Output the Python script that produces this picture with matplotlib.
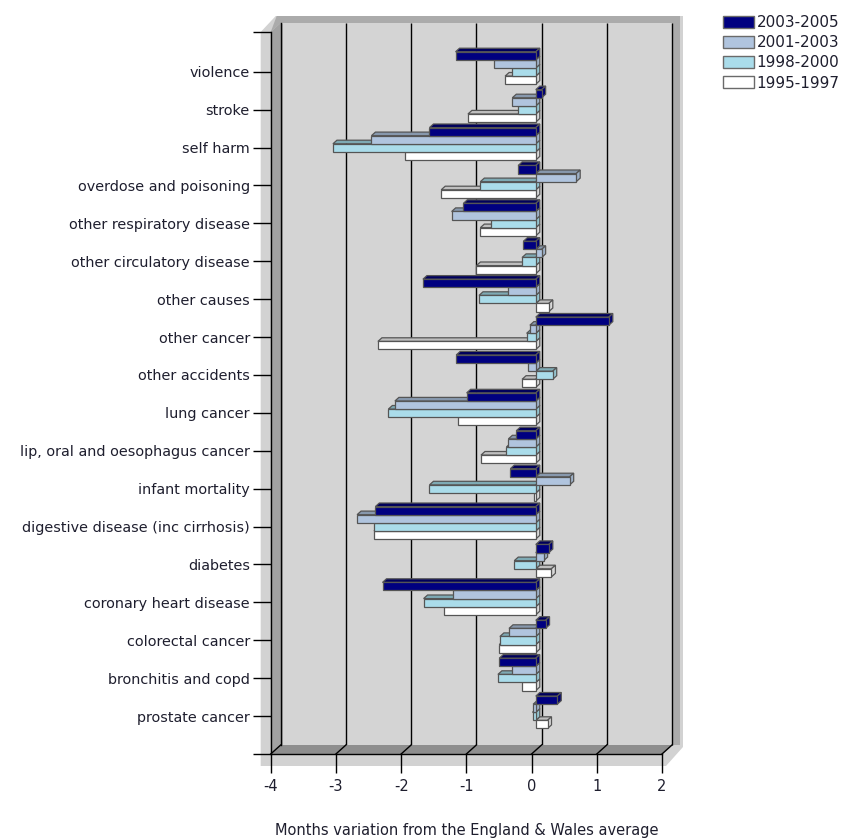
import matplotlib
matplotlib.use('Agg')
import matplotlib.pyplot as plt
from matplotlib.patches import Polygon, Patch
import numpy as np

categories = ['violence', 'stroke', 'self harm', 'overdose and poisoning',
              'other respiratory disease', 'other circulatory disease', 'other causes',
              'other cancer', 'other accidents', 'lung cancer',
              'lip, oral and oesophagus cancer', 'infant mortality',
              'digestive disease (inc cirrhosis)', 'diabetes', 'coronary heart disease',
              'colorectal cancer', 'bronchitis and copd', 'prostate cancer']
series_names = ['2003-2005', '2001-2003', '1998-2000', '1995-1997']
v_2003_2005 = [-1.23, 0.09, -1.63, -0.27, -1.11, -0.19, -1.73, 1.12, -1.22, -1.06,
               -0.30, -0.39, -2.46, 0.20, -2.35, 0.15, -0.56, 0.33]
v_2001_2003 = [-0.64, -0.36, -2.52, 0.62, -1.29, 0.09, -0.42, -0.09, -0.12, -2.16,
               -0.42, 0.52, -2.74, 0.12, -1.27, -0.41, -0.36, -0.04]
v_1998_2000 = [-0.36, -0.27, -3.11, -0.85, -0.68, -0.21, -0.87, -0.14, 0.26, -2.26,
               -0.45, -1.63, -2.48, -0.33, -1.72, -0.55, -0.58, -0.05]
v_1995_1997 = [-0.47, -1.04, -2.00, -1.45, -0.85, -0.91, 0.20, -2.42, -0.21, -1.20,
               -0.84, -0.02, -2.48, 0.24, -1.41, -0.56, -0.21, 0.18]
x_ticks = [-4, -3, -2, -1, 0, 1, 2]
xlabel = 'Months variation from the England & Wales average'

series_values = [v_2003_2005, v_2001_2003, v_1998_2000, v_1995_1997]
front_cols = ['#000080', '#b0c4de', '#aadcea', '#ffffff']
top_cols = ['#00005c', '#8798ad', '#7eaab4', '#bfbfbf']
side_cols = ['#000070', '#9eb0c6', '#94c3ce', '#d8d8d8']
edge_col = '#555555'
text_col = '#1e1e2e'

W, H = 842, 839
fig = plt.figure(figsize=(W / 100, H / 100), dpi=100)
ax_l, ax_r, ax_t, ax_b = 270.7, 662.0, 32.0, 754.0
ax = fig.add_axes([ax_l / W, 1 - ax_b / H, (ax_r - ax_l) / W, (ax_b - ax_t) / H])
XL, XR = x_ticks[0], x_ticks[-1]
YT, YB = -1.05, len(categories)
ax.set_xlim(XL, XR)
ax.set_ylim(YB, YT)
ax.patch.set_visible(False)

PX = (ax_r - ax_l) / (XR - XL)   # px per value unit
PY = (ax_b - ax_t) / (YB - YT)   # px per category


def dx(p):
    return p / PX


def dy(p):
    return p / PY


# depth of the box
bx, by = dx(10), dy(-9)
# outer shadow / wall thickness
shadow = Polygon([(XL - dx(10), YT), (XL + bx - dx(5), YT + by - dy(7)),
                  (XR + bx + dx(11), YT + by - dy(7)), (XR + bx + dx(11), YB + by + dy(2)),
                  (XR + dx(4), YB + dy(12)), (XL - dx(10), YB + dy(12))],
                 closed=True, facecolor='#d2d2d2', edgecolor='none', zorder=0, clip_on=False)
ax.add_patch(shadow)
band = Polygon([(XL + bx - dx(4), YT + by - dy(7)), (XR + bx + dx(8), YT + by - dy(7)),
                (XR + bx + dx(8), YB + by), (XR + bx, YB + by), (XR + bx, YT + by),
                (XL + bx, YT + by), (XL, YT)],
               closed=True, facecolor='#ababab', edgecolor='none', zorder=0.2, clip_on=False)
ax.add_patch(band)
# back wall
back = Polygon([(XL + bx, YT + by), (XR + bx, YT + by), (XR + bx, YB + by), (XL + bx, YB + by)],
               closed=True, facecolor='#d4d4d4', edgecolor='none', zorder=0.5, clip_on=False)
ax.add_patch(back)
for xt in x_ticks:
    ax.plot([xt + bx, xt + bx], [YT + by, YB + by], color='black', lw=1.0,
            zorder=0.8, clip_on=False, solid_capstyle='butt')
# left wall
lw_poly = Polygon([(XL, YT), (XL + bx, YT + by), (XL + bx, YB + by), (XL, YB)],
                  closed=True, facecolor='#a2a2a2', edgecolor='none', zorder=1, clip_on=False)
ax.add_patch(lw_poly)
ax.plot([XL + bx, XL + bx], [YT + by, YB + by], color='black', lw=1.0, zorder=1.1, clip_on=False)
# floor
floor = Polygon([(XL, YB), (XR, YB), (XR + bx, YB + by), (XL + bx, YB + by)],
                closed=True, facecolor='#8e8e8e', edgecolor='none', zorder=1, clip_on=False)
ax.add_patch(floor)
for xt in x_ticks:
    ax.plot([xt, xt + bx], [YB, YB + by], color='black', lw=1.0, zorder=1.1, clip_on=False)

# bars
ox, oy = dx(4.2), dy(-3.8)      # bar front plane
ddx, ddy = dx(4.0), dy(-3.6)    # bar depth
h = dy(8.1)
nser = len(series_values)
z = 2.0
for i in range(len(categories)):
    for k in reversed(range(nser)):
        v = series_values[k][i]
        ytop = i - nser * h / 2 + k * h + oy
        ybot = ytop + h
        left = ox + min(v, 0)
        right = ox + max(v, 0)
        z += 0.01
        top = Polygon([(left, ytop), (right, ytop), (right + ddx, ytop + ddy), (left + ddx, ytop + ddy)],
                      closed=True, facecolor=top_cols[k], edgecolor=edge_col, lw=0.9,
                      zorder=z, clip_on=False)
        ax.add_patch(top)
        z += 0.01
        side = Polygon([(right, ytop), (right, ybot), (right + ddx, ybot + ddy), (right + ddx, ytop + ddy)],
                       closed=True, facecolor=side_cols[k], edgecolor=edge_col, lw=0.9,
                       zorder=z, clip_on=False)
        ax.add_patch(side)
        z += 0.01
        ax.barh(i - nser * h / 2 + (k + 0.5) * h + oy, v, height=h, left=ox,
                color=front_cols[k], edgecolor=edge_col, linewidth=0.9, zorder=z, clip_on=False)

# axes lines
for s in ['top', 'right']:
    ax.spines[s].set_visible(False)
for s in ['left', 'bottom']:
    ax.spines[s].set_color('black')
    ax.spines[s].set_linewidth(1.0)
    ax.spines[s].set_zorder(50)

ax.set_xticks(x_ticks)
ax.set_xticklabels([str(t) for t in x_ticks])
ax.set_yticks(range(len(categories)))
ax.set_yticklabels(categories)
ax.set_yticks([YT, YB], minor=True)
ax.tick_params(axis='y', which='both', length=13, width=1.0, pad=2, labelsize=10.35,
               labelcolor=text_col, direction='out')
ax.tick_params(axis='x', which='major', length=14, width=1.0, pad=4, labelsize=10.5,
               labelcolor=text_col, direction='out')

fig.text(467 / W, 1 - 830 / H, xlabel, ha='center', va='center', fontsize=10.5, color=text_col)

handles = [Patch(facecolor=front_cols[k], edgecolor='#6a6a6a', linewidth=1.0) for k in range(nser)]
fig.legend(handles, series_names, loc='upper left', bbox_to_anchor=(723 / W, 1 - 15 / H),
           frameon=False, fontsize=11, handlelength=2.05, handleheight=0.8,
           handletextpad=0.15, labelspacing=0.34, borderpad=0, borderaxespad=0,
           labelcolor=text_col)

fig.savefig('out.png', dpi=100)
